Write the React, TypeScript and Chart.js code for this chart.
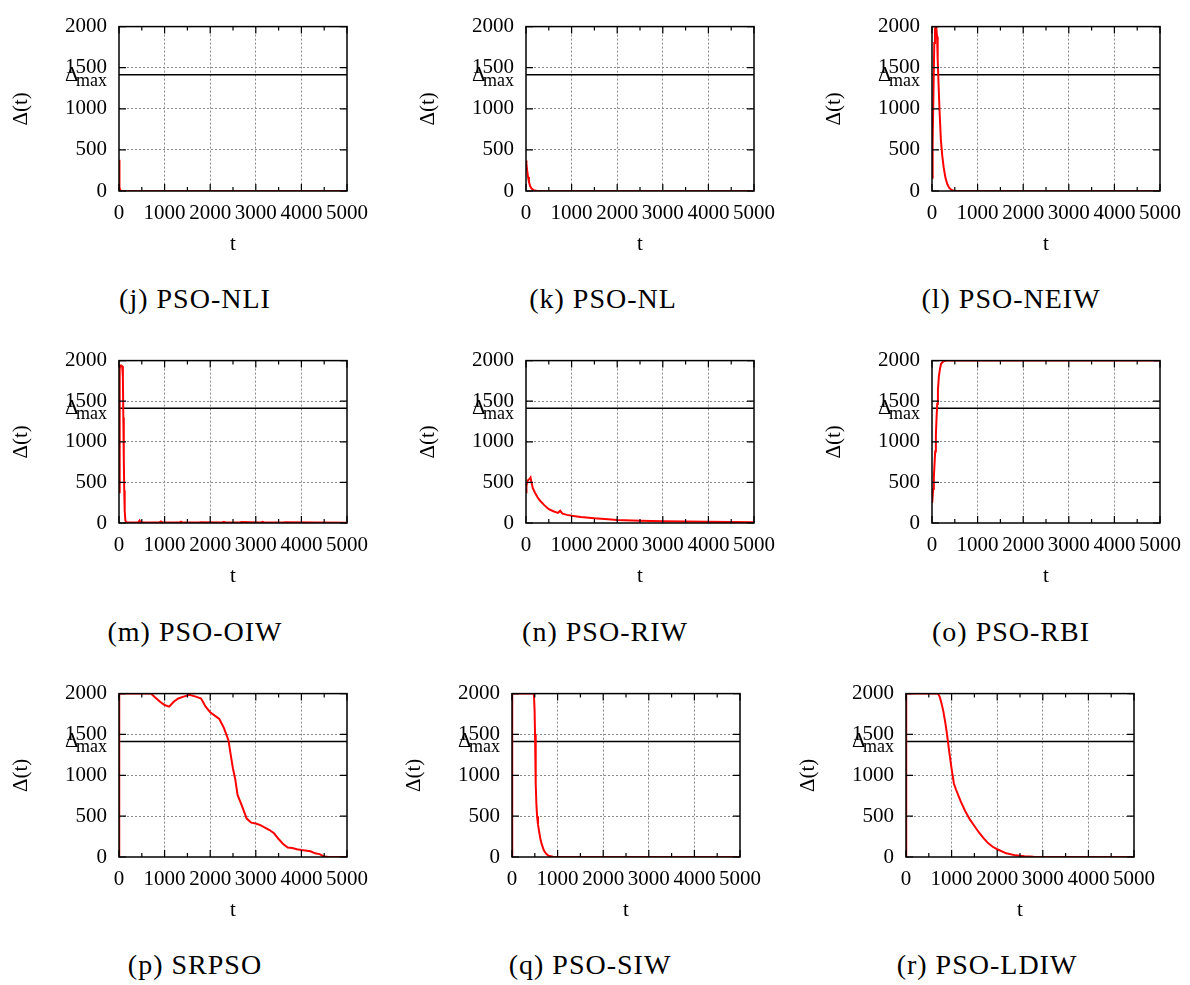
import React, { useEffect, useRef } from "react";
import { Chart, registerables } from "chart.js";

Chart.register(...registerables);

// ---------- data ----------
const xTickValues = [0, 1000, 2000, 3000, 4000, 5000];
const yTickValues = [0, 500, 1000, 1500, 2000];
const xMinorStep = 500;
const tMax = 5000;
const yMax = 2000;
const deltaMax = 1414;

const captions = [
  "(j) PSO-NLI", "(k) PSO-NL", "(l) PSO-NEIW",
  "(m) PSO-OIW", "(n) PSO-RIW", "(o) PSO-RBI",
  "(p) SRPSO", "(q) PSO-SIW", "(r) PSO-LDIW",
];

const nliT = [0, 5, 10, 15, 25, 40, 60, 5000];
const nliV = [380, 250, 120, 50, 15, 3, 0, 0];

const nlT = [0, 10, 25, 45, 65, 90, 120, 170, 250, 5000];
const nlV = [370, 330, 250, 170, 110, 60, 30, 10, 0, 0];

const neiwT = [0, 8, 20, 35, 50, 65, 80, 95, 110, 125, 145, 165, 195, 225, 255, 295, 335, 375, 420, 480, 5000];
const neiwV = [380, 150, 600, 1300, 1800, 1970, 2000, 1990, 1880, 1600, 1280, 980, 620, 430, 290, 160, 85, 40, 15, 0, 0];

const oiwT = [0, 10, 20, 30, 50, 70, 85, 95, 105, 115, 125, 140, 160, 420, 450, 480, 880, 920, 960, 1320, 1360, 1400, 1750, 1780, 2250, 2300, 2350, 2650, 2680, 3100, 3150, 3200, 3600, 3630, 5000];
const oiwV = [380, 1000, 1900, 1940, 1940, 1930, 1800, 1300, 800, 400, 150, 30, 5, 5, 30, 5, 5, 20, 5, 5, 18, 5, 5, 10, 5, 15, 5, 5, 12, 5, 14, 5, 5, 10, 3];

const riwT = [0, 10, 25, 50, 75, 100, 120, 150, 200, 250, 300, 400, 500, 600, 700, 750, 800, 900, 1000, 1200, 1500, 1800, 2000, 2500, 3000, 3500, 4000, 4500, 5000];
const riwV = [380, 450, 510, 530, 540, 560, 500, 430, 370, 320, 280, 220, 170, 145, 125, 150, 115, 100, 90, 75, 58, 45, 38, 28, 22, 18, 15, 12, 10];

const rbiT = [0, 5, 25, 40, 55, 70, 85, 100, 115, 130, 150, 175, 200, 250, 300, 350, 5000];
const rbiV = [380, 250, 420, 560, 720, 880, 1080, 1300, 1470, 1640, 1800, 1900, 1960, 1990, 2000, 2000, 2000];

const srpsoT = [0, 5, 700, 800, 900, 1000, 1100, 1200, 1300, 1400, 1550, 1700, 1800, 1900, 2000, 2100, 2200, 2300, 2400, 2450, 2500, 2550, 2600, 2700, 2800, 2900, 3000, 3100, 3200, 3300, 3400, 3500, 3600, 3700, 3800, 3900, 4000, 4200, 4300, 4400, 4500, 4600, 5000];
const srpsoV = [0, 2000, 2000, 1950, 1900, 1860, 1840, 1900, 1940, 1960, 1985, 1960, 1940, 1840, 1770, 1730, 1690, 1580, 1430, 1250, 1080, 950, 760, 620, 470, 420, 410, 390, 360, 330, 290, 220, 160, 115, 110, 95, 85, 70, 45, 35, 5, 0, 0];

const siwT = [0, 5, 480, 495, 505, 515, 525, 535, 550, 570, 590, 620, 650, 700, 750, 800, 900, 1000, 5000];
const siwV = [0, 2000, 2000, 1800, 1500, 1200, 900, 650, 500, 400, 330, 230, 160, 80, 40, 15, 3, 0, 0];

const ldiwT = [0, 5, 700, 740, 780, 820, 860, 900, 950, 1000, 1050, 1100, 1200, 1300, 1400, 1500, 1600, 1700, 1800, 1900, 2000, 2200, 2400, 2600, 2800, 3000, 5000];
const ldiwV = [0, 2000, 2000, 1960, 1880, 1780, 1650, 1500, 1280, 1080, 900, 820, 680, 560, 460, 380, 300, 230, 170, 125, 95, 45, 20, 10, 3, 0, 0];

const seriesT = [nliT, nlT, neiwT, oiwT, riwT, rbiT, srpsoT, siwT, ldiwT];
const seriesV = [nliV, nlV, neiwV, oiwV, riwV, rbiV, srpsoV, siwV, ldiwV];

// ---------- layout ----------
const AL = 110; // space left of plot (y axis)
const PT = 14; // space above plot
const PR = 40; // space right of plot
const AB = 75; // space below plot (x axis)
const PLOT_W = 228;

const layout = [
  { left: 119, top: 16, h: 175, capX: 195, capY: 299 },
  { left: 526, top: 16, h: 175, capX: 603, capY: 299 },
  { left: 932, top: 16, h: 175, capX: 1011, capY: 299 },
  { left: 119, top: 350, h: 173, capX: 195, capY: 632 },
  { left: 526, top: 350, h: 173, capX: 605, capY: 632 },
  { left: 932, top: 350, h: 173, capX: 1011, capY: 632 },
  { left: 119, top: 683, h: 174, capX: 195, capY: 965 },
  { left: 512, top: 683, h: 174, capX: 590, capY: 965 },
  { left: 906, top: 683, h: 174, capX: 987, capY: 965 },
];

const FONT = '"Liberation Serif", "Times New Roman", serif';

const framePlugin = {
  id: "gnuframe",
  afterDraw(chart: any) {
    const { ctx, chartArea: a, scales } = chart;
    const xs = scales.x;
    const ys = scales.y;
    ctx.save();
    ctx.strokeStyle = "#000";
    ctx.lineWidth = 1.2;
    ctx.beginPath();
    for (let t = 0; t <= tMax; t += xMinorStep) {
      const px = xs.getPixelForValue(t);
      const len = t % 1000 === 0 ? 7 : 4;
      ctx.moveTo(px, a.bottom);
      ctx.lineTo(px, a.bottom - len);
      ctx.moveTo(px, a.top);
      ctx.lineTo(px, a.top + len);
    }
    for (const v of yTickValues) {
      const py = ys.getPixelForValue(v);
      ctx.moveTo(a.left, py);
      ctx.lineTo(a.left + 7, py);
      ctx.moveTo(a.right, py);
      ctx.lineTo(a.right - 7, py);
    }
    ctx.stroke();
    ctx.lineWidth = 1.5;
    ctx.strokeRect(a.left, a.top, a.right - a.left, a.bottom - a.top);

    const py = ys.getPixelForValue(deltaMax);
    ctx.fillStyle = "#000";
    ctx.textBaseline = "alphabetic";
    ctx.font = `21px ${FONT}`;
    ctx.textAlign = "left";
    ctx.fillText("Δ", a.left - 54, py + 6);
    ctx.font = `18px ${FONT}`;
    ctx.textAlign = "right";
    ctx.fillText("max", a.left - 12, py + 11);
    ctx.restore();
  },
};

function Panel({ idx }: { idx: number }) {
  const ref = useRef<HTMLCanvasElement>(null);
  const L = layout[idx];
  const W = AL + PLOT_W + PR;
  const H = PT + L.h + AB;

  useEffect(() => {
    const tickFont = { family: FONT, size: 21 };
    const t = seriesT[idx];
    const v = seriesV[idx];
    const gridColor = (max: number) => (ctx: any) =>
      ctx.tick && (ctx.tick.value === 0 || ctx.tick.value === max) ? "rgba(0,0,0,0)" : "#8a8a8a";
    const chart = new Chart(ref.current!, {
      type: "line",
      data: {
        datasets: [
          {
            data: t.map((x, i) => ({ x, y: v[i] })),
            borderColor: "#ff0000",
            borderWidth: 2,
            pointRadius: 0,
            tension: 0,
            order: 0,
          },
          {
            data: [
              { x: 0, y: deltaMax },
              { x: tMax, y: deltaMax },
            ],
            borderColor: "#000",
            borderWidth: 1.4,
            pointRadius: 0,
            order: 1,
          },
        ],
      },
      options: {
        animation: false,
        responsive: false,
        maintainAspectRatio: false,
        devicePixelRatio: 1,
        events: [],
        layout: { padding: { left: 0, top: PT, right: PR, bottom: 0 } },
        plugins: { legend: { display: false }, tooltip: { enabled: false } },
        scales: {
          x: {
            type: "linear",
            min: 0,
            max: tMax,
            afterFit: (s: any) => {
              s.height = AB;
            },
            afterBuildTicks: (s: any) => {
              s.ticks = xTickValues.map((value) => ({ value }));
            },
            ticks: {
              font: tickFont,
              color: "#000",
              padding: 10,
              maxRotation: 0,
              autoSkip: false,
              callback: (val: any) => String(val),
            },
            grid: { drawTicks: false, color: gridColor(tMax), lineWidth: 1 },
            border: { display: false, dash: [2, 2] },
            title: { display: true, text: "t", font: tickFont, color: "#000", padding: { top: 0, bottom: 9 } },
          },
          y: {
            type: "linear",
            min: 0,
            max: yMax,
            afterFit: (s: any) => {
              s.width = AL;
            },
            afterBuildTicks: (s: any) => {
              s.ticks = yTickValues.map((value) => ({ value }));
            },
            ticks: {
              font: tickFont,
              color: "#000",
              padding: 12,
              autoSkip: false,
              callback: (val: any) => String(val),
            },
            grid: { drawTicks: false, color: gridColor(yMax), lineWidth: 1 },
            border: { display: false, dash: [2, 2] },
            title: { display: true, text: "Δ(t)", font: tickFont, color: "#000", padding: { top: 0, bottom: 0 } },
          },
        },
      } as any,
      plugins: [framePlugin],
    });
    return () => chart.destroy();
  }, [idx]);

  return (
    <canvas
      ref={ref}
      width={W}
      height={H}
      style={{ position: "absolute", left: L.left - AL, top: L.top - PT, width: W, height: H }}
    />
  );
}

export default function App() {
  return (
    <div style={{ position: "absolute", left: 0, top: 0, width: 1190, height: 985, background: "#fff", overflow: "hidden" }}>
      {layout.map((_, i) => (
        <Panel key={i} idx={i} />
      ))}
      {layout.map((L, i) => (
        <div
          key={"c" + i}
          style={{
            position: "absolute",
            left: L.capX,
            top: L.capY,
            transform: "translate(-50%, -50%)",
            fontFamily: FONT,
            fontSize: 28,
            letterSpacing: 1,
            whiteSpace: "nowrap",
            color: "#000",
          }}
        >
          {captions[i]}
        </div>
      ))}
    </div>
  );
}
